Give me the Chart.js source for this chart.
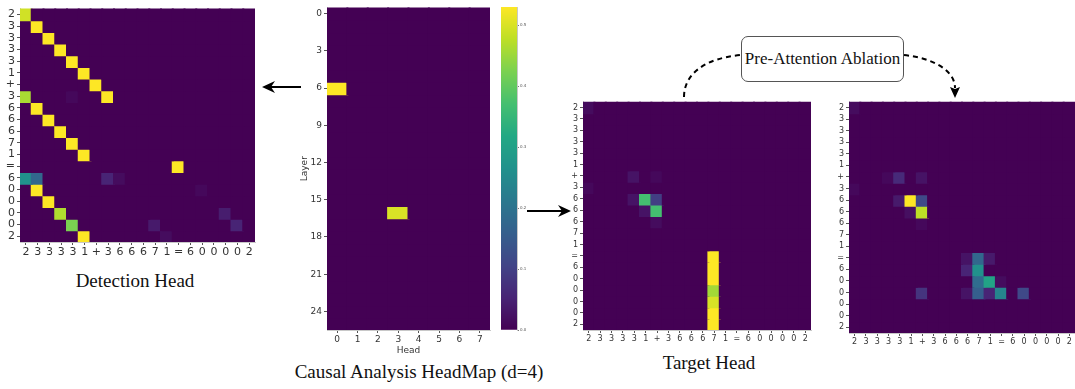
<!DOCTYPE html>
<html>
<head>
<meta charset="utf-8">
<script src="https://cdn.jsdelivr.net/npm/chart.js@4"></script>
<style>
  body { margin: 0; background: #fff; width: 1075px; height: 389px; position: relative; overflow: hidden; }
  canvas { position: absolute; }
  .caption { position: absolute; font-family: "Liberation Serif", "Times New Roman", serif; font-size: 19px; color: #111; white-space: nowrap; transform: translateX(-50%); }
  .box { position: absolute; left: 741px; top: 36px; width: 161px; height: 44px; border: 1.5px solid #555; border-radius: 7px; font-family: "Liberation Serif", serif; font-size: 17px; line-height: 44px; text-align: center; color: #111; background: #fff; }
  svg { position: absolute; left: 0; top: 0; }
</style>
</head>
<body>
<canvas id="detection" width="258" height="262" style="left:0px;top:0px"></canvas>
<canvas id="headmap" width="205" height="356" style="left:290px;top:0px"></canvas>
<canvas id="colorbar" width="40" height="335" style="left:497px;top:0px"></canvas>
<canvas id="target" width="255" height="250" style="left:560px;top:95px"></canvas>
<canvas id="ablation" width="249" height="253" style="left:826px;top:95px"></canvas>

<div class="caption" style="left:135px;top:270px">Detection Head</div>
<div class="caption" style="left:419px;top:361px">Causal Analysis HeadMap (d=4)</div>
<div class="caption" style="left:709px;top:352px">Target Head</div>
<div class="box">Pre-Attention Ablation</div>

<svg width="1075" height="389">
  <!-- arrow to detection head -->
  <line x1="301" y1="87" x2="266" y2="87" stroke="#000" stroke-width="2.2"/>
  <path d="M262,87 L275,81 L271,87 L275,93 Z" fill="#000"/>
  <!-- arrow to target head -->
  <line x1="527" y1="211" x2="566" y2="211" stroke="#000" stroke-width="2.2"/>
  <path d="M571,211 L558,205 L562,211 L558,217 Z" fill="#000"/>
  <!-- dashed curves around the ablation box -->
  <path d="M684,97 C684,74 705,58 741,55" fill="none" stroke="#000" stroke-width="2" stroke-dasharray="5,4"/>
  <path d="M904,55 C932,58 955,70 955,88" fill="none" stroke="#000" stroke-width="2" stroke-dasharray="5,4"/>
  <path d="M955,98 L950,87 L955,89 L960,87 Z" fill="#000"/>
</svg>

<script>
const tokens = ["2", "3", "3", "3", "3", "1", "+", "3", "6", "6", "6", "7", "1", "=", "6", "0", "0", "0", "0", "2"];
const headLabels = ["0", "1", "2", "3", "4", "5", "6", "7"];
const layerLabels = ["0", "1", "2", "3", "4", "5", "6", "7", "8", "9", "10", "11", "12", "13", "14", "15", "16", "17", "18", "19", "20", "21", "22", "23", "24", "25"];
const layerTicks = [0, 3, 6, 9, 12, 15, 18, 21, 24];
const colorbarTicks = [0, 0.1, 0.2, 0.3, 0.4, 0.5];
const colorbarMax = 0.53;

// [row, col, value]
const detectionCells = [
  [0, 0, 0.93], [1, 1, 1], [2, 2, 1], [3, 3, 1], [4, 4, 1], [5, 5, 1], [6, 6, 1],
  [7, 7, 1], [7, 0, 0.87], [7, 4, 0.02],
  [8, 1, 1], [9, 2, 1], [10, 3, 1], [11, 4, 1], [12, 5, 1], [13, 13, 1],
  [14, 0, 0.5], [14, 1, 0.33], [14, 7, 0.1], [14, 8, 0.03],
  [15, 1, 1], [15, 15, 0.02], [16, 2, 1], [17, 3, 0.88], [17, 17, 0.08],
  [18, 4, 0.8], [18, 11, 0.07], [18, 18, 0.1], [19, 5, 1], [19, 12, 0.03],
];
const headMapCells = [[6, 0, 0.53], [16, 3, 0.5]];
const targetCells = [
  [0, 0, 0.03], [6, 4, 0.05], [6, 6, 0.02], [7, 0, 0.02],
  [8, 4, 0.05], [8, 5, 0.7], [8, 6, 0.18], [9, 5, 0.05], [9, 6, 0.7], [10, 6, 0.03],
  [13, 11, 1], [14, 11, 1], [15, 11, 1], [16, 11, 0.86], [17, 11, 0.94], [18, 11, 1], [19, 11, 1],
];
const ablationCells = [
  [0, 0, 0.03], [6, 3, 0.02], [6, 4, 0.12], [6, 6, 0.05], [7, 0, 0.02],
  [8, 4, 0.07], [8, 5, 1], [8, 6, 0.22], [9, 5, 0.04], [9, 6, 0.9], [10, 6, 0.02],
  [13, 10, 0.05], [13, 11, 0.33], [13, 12, 0.07], [14, 10, 0.1], [14, 11, 0.5],
  [15, 11, 0.35], [15, 12, 0.58], [15, 13, 0.03],
  [16, 6, 0.15], [16, 10, 0.05], [16, 11, 0.3], [16, 12, 0.1], [16, 13, 0.45], [16, 15, 0.22],
];

const viridisStops = ["#440154", "#482475", "#414487", "#355f8d", "#2a788e", "#21918c", "#22a884", "#44bf70", "#7ad151", "#bddf26", "#fde725"];

function hexToRgb(h) {
  return [parseInt(h.slice(1, 3), 16), parseInt(h.slice(3, 5), 16), parseInt(h.slice(5, 7), 16)];
}

function viridis(t) {
  t = Math.max(0, Math.min(1, t));
  const pos = t * (viridisStops.length - 1);
  const i = Math.min(Math.floor(pos), viridisStops.length - 2);
  const f = pos - i;
  const a = hexToRgb(viridisStops[i]);
  const b = hexToRgb(viridisStops[i + 1]);
  const c = a.map((v, k) => Math.round(v + (b[k] - v) * f));
  return `rgb(${c[0]},${c[1]},${c[2]})`;
}

function buildMatrix(rows, cols, cells) {
  const m = Array.from({ length: rows }, () => Array(cols).fill(0));
  cells.forEach(([r, c, v]) => {
    m[r][c] = v;
  });
  return m;
}

function drawHeatmap(id, xLabels, yLabels, cells, vmax, cfg) {
  const matrix = buildMatrix(yLabels.length, xLabels.length, cells);
  const tickFont = { family: "DejaVu Sans", size: cfg.fontSize };
  const yTickRows = cfg.yTickRows || yLabels.map((_, i) => i);
  return new Chart(document.getElementById(id), {
    type: "bar",
    data: {
      labels: xLabels,
      datasets: yLabels.map((_, r) => ({
        data: xLabels.map(() => 1),
        backgroundColor: xLabels.map((_, c) => viridis(matrix[r][c] / vmax)),
        barPercentage: 1,
        categoryPercentage: 1,
        borderWidth: 0,
        inflateAmount: 1,
      })),
    },
    options: {
      responsive: false,
      animation: false,
      events: [],
      layout: { padding: cfg.padding },
      plugins: { legend: { display: false }, tooltip: { enabled: false } },
      scales: {
        x: {
          stacked: true,
          grid: { offset: false, drawOnChartArea: false, tickLength: 3, color: "#555" },
          border: { color: "#c8c8c8" },
          ticks: { autoSkip: false, maxRotation: 0, padding: 1, color: "#333", font: tickFont },
          title: cfg.xTitle
            ? { display: true, text: cfg.xTitle, color: "#333", font: { family: "DejaVu Sans", size: 9 }, padding: 0 }
            : { display: false },
          afterFit: (scale) => {
            scale.height = cfg.xAxisHeight;
          },
        },
        y: {
          stacked: true,
          reverse: true,
          min: 0,
          max: yLabels.length,
          grid: { drawOnChartArea: false, tickLength: 3, color: "#555" },
          border: { color: "#c8c8c8" },
          afterBuildTicks: (scale) => {
            scale.ticks = yTickRows.map((r) => ({ value: r + 0.5 }));
          },
          ticks: {
            autoSkip: false,
            padding: 2,
            color: "#333",
            font: tickFont,
            callback: (value) => yLabels[Math.floor(value)],
          },
          title: cfg.yTitle
            ? { display: true, text: cfg.yTitle, color: "#333", font: { family: "DejaVu Sans", size: 9 }, padding: 0 }
            : { display: false },
          afterFit: (scale) => {
            scale.width = cfg.yAxisWidth;
          },
        },
      },
    },
  });
}

drawHeatmap("detection", tokens, tokens, detectionCells, 1, {
  fontSize: 11,
  padding: { top: 6, right: 3, left: 0, bottom: 0 },
  yAxisWidth: 20,
  xAxisHeight: 20,
});

drawHeatmap("headmap", headLabels, layerLabels, headMapCells, colorbarMax, {
  fontSize: 9,
  padding: { top: 7, right: 5, left: 9, bottom: 0 },
  yAxisWidth: 28,
  xAxisHeight: 26,
  yTickRows: layerTicks,
  xTitle: "Head",
  yTitle: "Layer",
});

drawHeatmap("target", tokens, tokens, targetCells, 1, {
  fontSize: 8,
  padding: { top: 6, right: 4, left: 0, bottom: 0 },
  yAxisWidth: 23,
  xAxisHeight: 15,
});

drawHeatmap("ablation", tokens, tokens, ablationCells, 1, {
  fontSize: 8,
  padding: { top: 6, right: 0, left: 0, bottom: 0 },
  yAxisWidth: 23,
  xAxisHeight: 15,
});

// colour bar for the head map
new Chart(document.getElementById("colorbar"), {
  type: "bar",
  data: {
    labels: [""],
    datasets: [
      {
        data: [[0, colorbarMax]],
        barPercentage: 1,
        categoryPercentage: 1,
        borderWidth: 0,
        backgroundColor: (ctx) => {
          const area = ctx.chart.chartArea;
          if (!area) {
            return viridisStops[0];
          }
          const g = ctx.chart.ctx.createLinearGradient(0, area.bottom, 0, area.top);
          viridisStops.forEach((c, i) => g.addColorStop(i / (viridisStops.length - 1), c));
          return g;
        },
      },
    ],
  },
  options: {
    responsive: false,
    animation: false,
    events: [],
    layout: { padding: { top: 7, left: 4, right: 0, bottom: 5 } },
    plugins: { legend: { display: false }, tooltip: { enabled: false } },
    scales: {
      x: { display: false },
      y: {
        position: "right",
        min: 0,
        max: colorbarMax,
        grid: { drawOnChartArea: false, tickLength: 2, color: "#777" },
        border: { color: "#c8c8c8" },
        afterBuildTicks: (scale) => {
          scale.ticks = colorbarTicks.map((v) => ({ value: v }));
        },
        ticks: {
          padding: 1,
          color: "#555",
          font: { family: "DejaVu Sans", size: 4 },
          callback: (value) => value.toFixed(1),
        },
        afterFit: (scale) => {
          scale.width = 20;
        },
      },
    },
  },
});
</script>
</body>
</html>
